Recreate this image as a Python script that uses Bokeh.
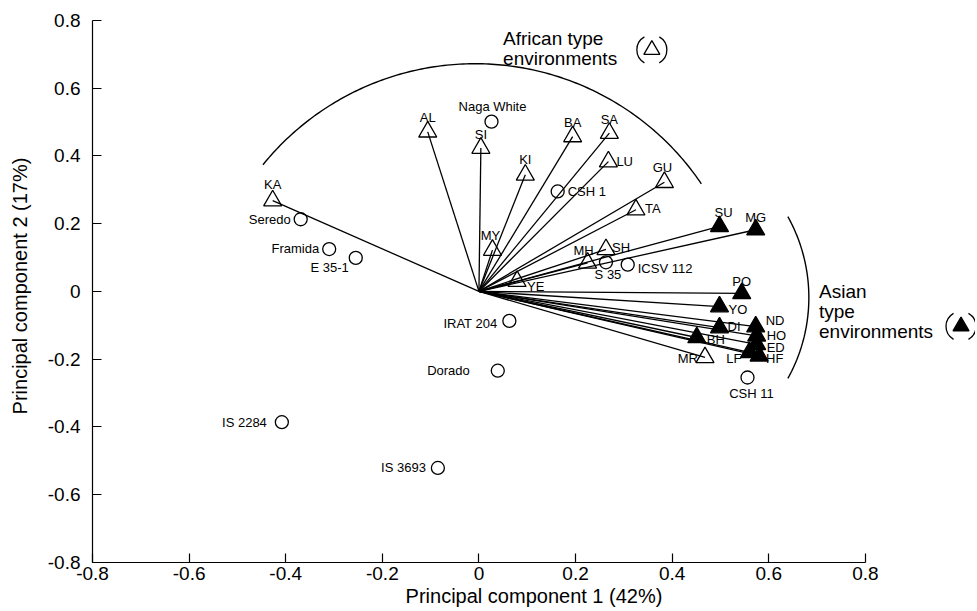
import numpy as np
from bokeh.plotting import figure
from bokeh.models import ColumnDataSource, CustomJSTickFormatter, FixedTicker
from bokeh.core.properties import value
from bokeh.embed import file_html
from bokeh.resources import INLINE

# ---------------- data ----------------
# African type environments (open triangles)
AFR_ENV = ["AL", "SI", "KI", "BA", "SA", "LU", "GU", "TA", "MY", "SH", "MH", "YE", "KA", "MR"]
AFR_PC1 = [-0.106, 0.004, 0.096, 0.194, 0.270, 0.268, 0.384, 0.325, 0.028, 0.263, 0.225, 0.079, -0.427, 0.468]
AFR_PC2 = [0.471, 0.423, 0.344, 0.457, 0.467, 0.383, 0.322, 0.241, 0.122, 0.124, 0.084, 0.030, 0.268, -0.195]

# Asian type environments (filled triangles)
ASIA_ENV = ["SU", "MG", "PO", "YO", "DI", "ND", "HO", "ED", "BH", "LF", "HF"]
ASIA_PC1 = [0.498, 0.573, 0.544, 0.498, 0.498, 0.573, 0.575, 0.575, 0.451, 0.560, 0.580]
ASIA_PC2 = [0.192, 0.182, -0.006, -0.045, -0.107, -0.104, -0.131, -0.156, -0.136, -0.180, -0.190]

# Genotypes (open circles)
GENOTYPES = ["Naga White", "CSH 1", "S 35", "ICSV 112", "Seredo", "Framida", "E 35-1",
             "IRAT 204", "Dorado", "IS 2284", "IS 3693", "CSH 11"]
GEN_PC1 = [0.026, 0.163, 0.263, 0.308, -0.369, -0.310, -0.255, 0.063, 0.039, -0.408, -0.085, 0.556]
GEN_PC2 = [0.501, 0.295, 0.086, 0.079, 0.213, 0.125, 0.099, -0.087, -0.234, -0.386, -0.521, -0.254]

TICKS = [-0.8, -0.6, -0.4, -0.2, 0.0, 0.2, 0.4, 0.6, 0.8]
X_TITLE = "Principal component 1 (42%)"
Y_TITLE = "Principal component 2 (17%)"
AFR_LEGEND = ["African type", "environments"]
ASIA_LEGEND = ["Asian", "type", "environments"]

# ---------------- styles / placement ----------------
FONT = "Liberation Sans"
# label offset in screen px (dx, dy) and alignment
LABEL_STYLE = {
    "AL": (0, -14, "center"), "SI": (0, -14, "center"), "KI": (0, -15, "center"),
    "BA": (0, -14, "center"), "SA": (0, -14, "center"), "LU": (8, 0, "left"),
    "GU": (-2, -15, "center"), "TA": (9, -1, "left"), "MY": (-2, -15, "center"),
    "SH": (6, -2, "left"), "MH": (-4, -12, "center"), "YE": (10, 5, "left"),
    "KA": (0, -16, "center"), "MR": (-7, 1, "right"),
    "SU": (4, -14, "center"), "MG": (0, -12, "center"), "PO": (0, -12, "center"),
    "YO": (9, 3, "left"), "DI": (8, -1, "left"), "ND": (10, -6, "left"),
    "HO": (10, 0, "left"), "ED": (10, 3, "left"), "BH": (10, 2, "left"),
    "LF": (-8, 6, "right"), "HF": (7, 3, "left"),
    "Naga White": (1, -15, "center"), "CSH 1": (10, 0, "left"), "S 35": (2, 12, "center"),
    "ICSV 112": (10, 4, "left"), "Seredo": (-10, 0, "right"), "Framida": (-10, -1, "right"),
    "E 35-1": (-7, 10, "right"), "IRAT 204": (-12, 3, "right"), "Dorado": (-28, 0, "right"),
    "IS 2284": (-15, 0, "right"), "IS 3693": (-12, 0, "right"), "CSH 11": (4, 16, "center"),
}

# grouping arcs (elliptical in data units), angles in degrees
AFR_ARC = dict(cx=-0.008, cy=-0.132, rx=0.565, ry=0.804, a0=34, a1=141)
ASIA_ARC = dict(cx=0.337, cy=-0.018, rx=0.346, ry=0.492, a0=-29, a1=29)

# legend anchor positions (data units)
AFR_LEG_TEXT = (0.050, [0.745, 0.687])
AFR_LEG_SYM = (0.358, 0.713)
ASIA_LEG_TEXT = (0.704, [0.0, -0.059, -0.118])
ASIA_LEG_SYM = (0.998, -0.103)


def ellipse_arc(cx, cy, rx, ry, a0, a1):
    t = np.radians(np.linspace(a0, a1, 160))
    return cx + rx * np.cos(t), cy + ry * np.sin(t)


p = figure(width=975, height=609, x_range=(-0.8, 1.028), y_range=(-0.8, 0.832),
           output_backend="svg", toolbar_location=None,
           min_border_left=92, min_border_right=0, min_border_top=9, min_border_bottom=46)
p.outline_line_color = None
p.grid.visible = False
p.background_fill_color = "white"

for ax in (p.xaxis[0], p.yaxis[0]):
    ax.ticker = FixedTicker(ticks=TICKS)
    ax.bounds = (-0.8, 0.8)
    ax.formatter = CustomJSTickFormatter(
        code="return Math.abs(tick) < 1e-9 ? '0' : tick.toFixed(1);")
    ax.major_tick_in = 9
    ax.major_tick_out = 0
    ax.minor_tick_line_color = None
    ax.axis_line_color = "black"
    ax.axis_line_width = 1.2
    ax.major_tick_line_width = 1.2
    ax.major_label_text_font = FONT
    ax.major_label_text_font_size = "19px"
    ax.major_label_text_color = "black"
    ax.axis_label_text_font = FONT
    ax.axis_label_text_font_size = "20px"
    ax.axis_label_text_font_style = "normal"
    ax.axis_label_text_color = "black"

p.xaxis[0].axis_label = X_TITLE
p.xaxis[0].major_label_standoff = 4
p.xaxis[0].axis_label_standoff = 2
p.yaxis[0].axis_label = Y_TITLE
p.yaxis[0].major_label_standoff = 12
p.yaxis[0].axis_label_standoff = 14

# vectors from origin to environments
env_x = AFR_PC1 + ASIA_PC1
env_y = AFR_PC2 + ASIA_PC2
p.segment(x0=0, y0=0, x1=env_x, y1=env_y, line_color="black", line_width=1.3)

# grouping arcs
ax_, ay_ = ellipse_arc(**AFR_ARC)
p.line(ax_, ay_, line_color="black", line_width=1.4)
sx_, sy_ = ellipse_arc(**ASIA_ARC)
p.line(sx_, sy_, line_color="black", line_width=1.4)

# markers
p.scatter(AFR_PC1, AFR_PC2, marker="triangle", size=18, fill_color=None,
          line_color="black", line_width=1.3)
p.scatter(ASIA_PC1, ASIA_PC2, marker="triangle", size=18, fill_color="black",
          line_color="black", line_width=1.3)
p.scatter(GEN_PC1, GEN_PC2, marker="circle", size=13, fill_color=None,
          line_color="black", line_width=1.3)

# point labels
names = AFR_ENV + ASIA_ENV + GENOTYPES
xs = AFR_PC1 + ASIA_PC1 + GEN_PC1
ys = AFR_PC2 + ASIA_PC2 + GEN_PC2
lab = ColumnDataSource(dict(
    x=xs, y=ys, text=names,
    dx=[LABEL_STYLE[n][0] for n in names],
    dy=[LABEL_STYLE[n][1] for n in names],
    align=[LABEL_STYLE[n][2] for n in names],
))
p.text(x="x", y="y", text="text", x_offset="dx", y_offset="dy", text_align="align",
       text_baseline="middle", text_font=value(FONT), text_font_size="13px",
       text_color="black", source=lab)

# legends
p.text(x=[AFR_LEG_TEXT[0]] * len(AFR_LEGEND), y=AFR_LEG_TEXT[1], text=AFR_LEGEND,
       text_align="left", text_baseline="alphabetic", text_font=value(FONT),
       text_font_size="19px", text_color="black")
p.text(x=[ASIA_LEG_TEXT[0]] * len(ASIA_LEGEND), y=ASIA_LEG_TEXT[1], text=ASIA_LEGEND,
       text_align="left", text_baseline="alphabetic", text_font=value(FONT),
       text_font_size="19px", text_color="black")

sym_x = [AFR_LEG_SYM[0], ASIA_LEG_SYM[0]]
sym_y = [AFR_LEG_SYM[1], ASIA_LEG_SYM[1]]
p.scatter(sym_x[:1], sym_y[:1], marker="triangle", size=16, fill_color=None,
          line_color="black", line_width=1.3)
p.scatter(sym_x[1:], sym_y[1:], marker="triangle", size=16, fill_color="black",
          line_color="black", line_width=1.3)
p.arc(x=sym_x, y=sym_y, radius=15, radius_units="screen",
      start_angle=-1.05, end_angle=1.05, line_color="black", line_width=1.3)
p.arc(x=sym_x, y=sym_y, radius=15, radius_units="screen",
      start_angle=np.pi - 1.05, end_angle=np.pi + 1.05, line_color="black", line_width=1.3)

open("out.html", "w").write(file_html(p, INLINE))
